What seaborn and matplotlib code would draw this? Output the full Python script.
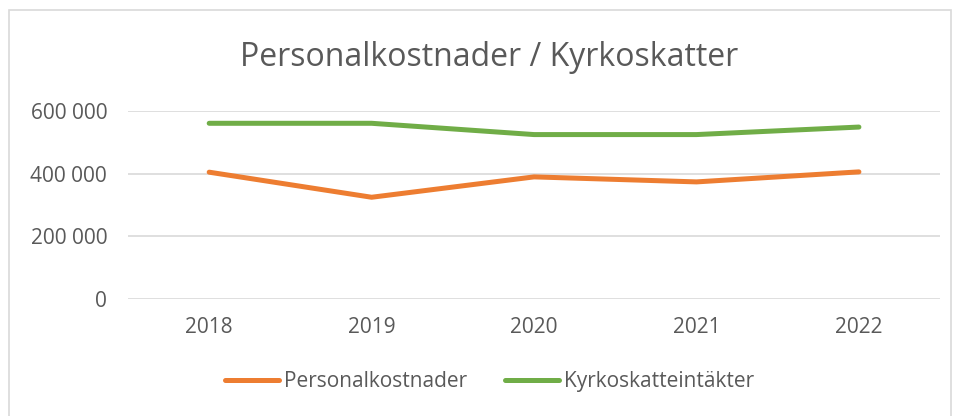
import pandas as pd
import matplotlib.pyplot as plt
import seaborn as sns
from matplotlib.patches import Rectangle
from matplotlib.ticker import FuncFormatter

# data
years = ['2018', '2019', '2020', '2021', '2022']
personalkostnader = [405000, 325000, 390000, 374000, 406000]
kyrkoskatteintakter = [561000, 561000, 525000, 525000, 549000]
series_names = ['Personalkostnader', 'Kyrkoskatteintäkter']

df = pd.DataFrame({
    'year': years * 2,
    'value': personalkostnader + kyrkoskatteintakter,
    'serie': [series_names[0]] * len(years) + [series_names[1]] * len(years),
})

sns.set_style("white")
plt.rcParams['font.family'] = ['Open Sans', 'DejaVu Sans']

fig = plt.figure(figsize=(9.6, 4.16), dpi=100)
ax = fig.add_axes([0.1333, 0.281, 0.846, 0.452])

sns.lineplot(data=df, x='year', y='value', hue='serie',
             palette=['#ED7D31', '#70AD47'], linewidth=3.6,
             solid_capstyle='round', ax=ax, legend=False)

ax.set_xlim(-0.5, 4.5)
ax.set_ylim(0, 600000)
ax.set_yticks([0, 200000, 400000, 600000])
ax.yaxis.set_major_formatter(FuncFormatter(lambda v, p: f'{int(v):,}'.replace(',', ' ')))
ax.grid(axis='y', color='#D9D9D9', linewidth=1.2)
ax.set_axisbelow(True)
for s in ax.spines.values():
    s.set_visible(False)
ax.tick_params(axis='both', length=0, labelsize=15, labelcolor='#595959')
ax.tick_params(axis='y', pad=15)
ax.tick_params(axis='x', pad=13)
ax.set_xlabel('')
ax.set_ylabel('')

fig.text(0.51, 0.862, 'Personalkostnader / Kyrkoskatter', ha='center', va='center',
         fontsize=23, color='#595959')

handles = [plt.Line2D([], [], color=c, linewidth=3.6, solid_capstyle='round')
           for c in ['#ED7D31', '#70AD47']]
fig.legend(handles, series_names, loc='center', bbox_to_anchor=(0.51, 0.083),
           ncol=2, frameon=False, fontsize=15, labelcolor='#595959',
           handlelength=2.6, handletextpad=0.25, columnspacing=1.8)

fig.patches.append(Rectangle((9 / 960, -0.1), 942 / 960, 1.076, transform=fig.transFigure,
                             fill=False, edgecolor='#D9D9D9', linewidth=1.2))

fig.savefig('out.png', dpi=100)
